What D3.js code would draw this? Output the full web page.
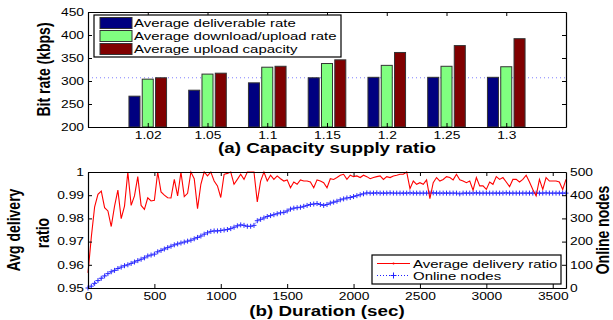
<!DOCTYPE html>
<html>
<head>
<meta charset="utf-8">
<script src="https://cdn.jsdelivr.net/npm/d3@7"></script>
<style>
  body { margin: 0; background: #fff; }
  svg { display: block; font-family: "Liberation Sans", Arial, Helvetica, sans-serif; }
</style>
</head>
<body>
<svg id="chart" width="613" height="320"></svg>
<script>
// (a) bar chart data
const ratios = ["1.02", "1.05", "1.1", "1.15", "1.2", "1.25", "1.3"];
const deliverable = [267, 280, 296, 307, 308, 308, 308];
const downUpload = [304, 315, 330, 338, 334, 332, 331];
const uploadCap = [307, 317, 332, 346, 362, 377, 392];
const barSeries = ["Average deliverable rate", "Average download/upload rate", "Average upload capacity"];
const barColors = ["#000080", "#80ff80", "#800000"];
const refRate = 307;
const rateTicks = [200, 250, 300, 350, 400, 450];

// (b) time series, one sample every 25 sec
const times = d3.range(0, 3601, 25);
const deliveryRatio = [
  0.9565,0.972,0.985,0.9904,0.9918,0.9846,0.9832,0.9765,0.9853,0.9922,
  0.9799,0.9853,1.0,0.9856,0.9897,0.998,0.9856,0.9839,0.9889,0.9875,
  0.9878,1.0,0.9914,0.990,0.9889,0.9888,0.9968,0.9897,1.0,0.9894,
  0.9908,1.0,0.9971,0.9842,0.9947,1.0,0.9983,1.0,0.9961,0.994,
  0.989,0.999,0.9994,1.0,0.9947,0.9968,0.999,0.9968,1.0,1.0,
  1.0,0.9871,0.9961,1.0,0.9961,0.9986,0.9968,0.9983,0.9971,0.9961,
  0.9966,0.9932,0.9957,0.9947,0.9966,0.9961,0.9961,0.9957,0.9932,0.9966,
  0.9961,0.9954,0.9932,0.9971,0.9968,0.9976,0.9986,0.999,0.9968,0.9986,
  0.998,0.9983,0.9976,0.9986,0.998,0.9971,0.9976,0.998,0.9983,0.9968,
  0.998,0.9976,0.9983,0.9986,0.999,0.999,1.0,0.9928,0.9961,0.9947,
  0.9954,0.9947,0.9966,0.9885,0.9954,0.9976,0.9961,0.9968,0.998,0.9976,
  0.9966,0.999,0.9966,0.9961,0.9954,0.9961,0.9922,0.9976,0.994,0.994,
  0.9925,0.9957,0.9947,0.998,0.9968,0.9976,0.9957,0.9937,0.9968,0.9968,
  0.9957,0.9968,0.9986,0.9957,0.9925,0.9897,0.9968,0.9925,0.9976,0.9961,
  0.9961,0.9961,0.9957,0.9925,0.9968
];
const onlineNodes = [
  0,8,20,32,42,52,62,70,76,84,
  90,96,100,106,112,118,124,130,138,142,
  146,156,162,168,174,180,186,190,194,198,
  202,206,212,218,224,232,238,244,246,246,
  248,250,252,256,262,268,272,270,266,266,
  270,290,296,302,308,312,316,320,324,326,
  332,340,344,346,348,352,356,360,362,364,
  360,356,360,366,370,374,380,384,388,390,
  394,398,402,406,410,
  409,409,410,409,409,409,410,409,409,409,
  409,409,410,409,409,409,409,409,409,410,
  409,409,409,409,409,409,409,406,409,409,
  409,409,410,409,409,409,409,409,409,409,
  409,410,409,409,409,409,409,409,409,409,
  409,409,409,410,409,409,409,409,409,409
];
const ratioTicks = [0.95, 0.96, 0.97, 0.98, 0.99, 1];
const ratioLabels = ["0.95", "0.96", "0.97", "0.98", "0.99", "1"];
const nodeTicks = [0, 100, 200, 300, 400, 500];
const timeTicks = [0, 500, 1000, 1500, 2000, 2500, 3000, 3500];
const lineSeries = ["Average delivery ratio", "Online nodes"];

const svg = d3.select("#chart");

// the original figure is stretched sideways, so text is widened to match
function stretch(sel, k) {
  sel.each(function() {
    const w = this.getComputedTextLength();
    d3.select(this).attr("textLength", w * k).attr("lengthAdjust", "spacingAndGlyphs");
  });
}

function styleAxis(g) {
  g.select(".domain").attr("stroke", "#000").attr("stroke-width", 1.2);
  g.selectAll(".tick line").attr("stroke", "#000").attr("stroke-width", 1);
  g.selectAll("text").attr("font-size", 10).attr("fill", "#000");
}

// ---------- (a) ----------
const L = 88, R = 566;
const xBar = d3.scaleLinear().domain([0, 8]).range([L, R]);
const yBar = d3.scaleLinear().domain([200, 450]).range([127, 12]);
const xSub = d3.scaleBand().domain(barSeries).range([-18.8, 18.8]).paddingInner(0.17);

const gTop = svg.append("g");

gTop.append("line")
  .attr("x1", L).attr("x2", R)
  .attr("y1", yBar(refRate)).attr("y2", yBar(refRate))
  .attr("stroke", "#8080ff").attr("stroke-width", 1)
  .attr("stroke-dasharray", "1,3");

const barValues = [deliverable, downUpload, uploadCap];
barSeries.forEach((name, s) => {
  gTop.append("g").selectAll("rect")
    .data(barValues[s])
    .join("rect")
    .attr("x", (d, i) => xBar(i + 1) + xSub(name))
    .attr("width", xSub.bandwidth())
    .attr("y", d => yBar(d))
    .attr("height", d => yBar(200) - yBar(d))
    .attr("fill", barColors[s])
    .attr("stroke", "#333").attr("stroke-width", 1);
});

const catIdx = ratios.map((r, i) => i + 1);
const axA = gTop.append("g").attr("transform", `translate(0,${yBar(200)})`)
  .call(d3.axisBottom(xBar).tickValues(catIdx).tickFormat(i => ratios[i - 1])
    .tickSizeInner(-4).tickSizeOuter(0).tickPadding(5));
styleAxis(axA);
gTop.append("g").attr("transform", `translate(0,${yBar(450)})`)
  .call(d3.axisTop(xBar).tickValues(catIdx).tickFormat("").tickSizeInner(-4).tickSizeOuter(0))
  .call(styleAxis);
const ayA = gTop.append("g").attr("transform", `translate(${L},0)`)
  .call(d3.axisLeft(yBar).tickValues(rateTicks).tickSizeInner(-4).tickSizeOuter(0).tickPadding(4));
styleAxis(ayA);
gTop.append("g").attr("transform", `translate(${R},0)`)
  .call(d3.axisRight(yBar).tickValues(rateTicks).tickFormat("").tickSizeInner(-4).tickSizeOuter(0))
  .call(styleAxis);

stretch(axA.selectAll("text"), 1.38);
stretch(ayA.selectAll("text"), 1.38);

// legend (a)
const legA = gTop.append("g");
legA.append("rect").attr("x", 94).attr("y", 15).attr("width", 247).attr("height", 42)
  .attr("fill", "#fff").attr("stroke", "#000").attr("stroke-width", 1.2);
barSeries.forEach((name, s) => {
  const cy = 23 + s * 13;
  legA.append("rect").attr("x", 100).attr("y", cy - 5.5).attr("width", 32).attr("height", 11)
    .attr("fill", barColors[s]).attr("stroke", "#333").attr("stroke-width", 1);
  legA.append("text").attr("x", 134).attr("y", cy + 4.2)
    .attr("font-size", 11.5).text(name)
    .call(stretch, 1.3);
});

gTop.append("text")
  .attr("x", (L + R) / 2).attr("y", 153)
  .attr("text-anchor", "middle").attr("font-size", 14).attr("font-weight", "bold")
  .text("(a) Capacity supply ratio")
  .call(stretch, 1.34);

gTop.append("text")
  .attr("transform", "translate(50,69.5) rotate(-90) scale(1,1.35)")
  .attr("text-anchor", "middle").attr("font-size", 14).attr("font-weight", "bold")
  .text("Bit rate (kbps)");

// ---------- (b) ----------
const xT = d3.scaleLinear().domain([0, 3600]).range([L, R]);
const yRatio = d3.scaleLinear().domain([0.95, 1]).range([288, 172]);
const yNodes = d3.scaleLinear().domain([0, 500]).range([288, 172]);

const gBot = svg.append("g");

const nodePts = times.map((t, i) => [t, onlineNodes[i]]);
gBot.append("path")
  .attr("d", d3.line().x(d => xT(d[0])).y(d => yNodes(d[1]))(nodePts))
  .attr("fill", "none").attr("stroke", "#2020ff").attr("stroke-width", 1)
  .attr("stroke-dasharray", "1,2");
gBot.append("g").selectAll("path")
  .data(nodePts)
  .join("path")
  .attr("d", d => {
    const x = xT(d[0]), y = yNodes(d[1]);
    return `M${x - 2.5},${y}H${x + 2.5}M${x},${y - 2.5}V${y + 2.5}`;
  })
  .attr("stroke", "#2a2aff").attr("stroke-width", 1).attr("fill", "none");

const ratioPts = times.map((t, i) => [t, deliveryRatio[i]]);
gBot.append("path")
  .attr("d", d3.line().x(d => xT(d[0])).y(d => yRatio(d[1]))(ratioPts))
  .attr("fill", "none").attr("stroke", "#ff0000").attr("stroke-width", 1.1);

const axB = gBot.append("g").attr("transform", `translate(0,${yRatio(0.95)})`)
  .call(d3.axisBottom(xT).tickValues(timeTicks).tickFormat(d3.format("d"))
    .tickSizeInner(-4).tickSizeOuter(0).tickPadding(5));
styleAxis(axB);
gBot.append("g").attr("transform", `translate(0,${yRatio(1)})`)
  .call(d3.axisTop(xT).tickValues(timeTicks).tickFormat("").tickSizeInner(-4).tickSizeOuter(0))
  .call(styleAxis);
const ayB = gBot.append("g").attr("transform", `translate(${L},0)`)
  .call(d3.axisLeft(yRatio).tickValues(ratioTicks).tickFormat((d, i) => ratioLabels[i])
    .tickSizeInner(-4).tickSizeOuter(0).tickPadding(4));
styleAxis(ayB);
const ayB2 = gBot.append("g").attr("transform", `translate(${R},0)`)
  .call(d3.axisRight(yNodes).tickValues(nodeTicks).tickSizeInner(-4).tickSizeOuter(0).tickPadding(4));
styleAxis(ayB2);

stretch(axB.selectAll("text"), 1.38);
stretch(ayB.selectAll("text"), 1.38);
stretch(ayB2.selectAll("text"), 1.38);

// legend (b)
const legB = gBot.append("g");
legB.append("rect").attr("x", 372).attr("y", 255).attr("width", 189).attr("height", 29)
  .attr("fill", "#fff").attr("stroke", "#000").attr("stroke-width", 1.2);
legB.append("line").attr("x1", 377).attr("x2", 410).attr("y1", 263.5).attr("y2", 263.5)
  .attr("stroke", "#ff0000").attr("stroke-width", 1.1);
legB.append("circle").attr("cx", 393.5).attr("cy", 263.5).attr("r", 1).attr("fill", "#ff0000");
legB.append("line").attr("x1", 377).attr("x2", 410).attr("y1", 275.5).attr("y2", 275.5)
  .attr("stroke", "#2020ff").attr("stroke-width", 1).attr("stroke-dasharray", "1,2");
legB.append("path").attr("d", "M390.5,275.5H396.5M393.5,272.5V278.5")
  .attr("stroke", "#2020ff").attr("stroke-width", 1);
lineSeries.forEach((name, s) => {
  legB.append("text").attr("x", 413).attr("y", 267.5 + s * 12)
    .attr("font-size", 11.5).text(name)
    .call(stretch, 1.3);
});

gBot.append("text")
  .attr("x", (L + R) / 2).attr("y", 316)
  .attr("text-anchor", "middle").attr("font-size", 14).attr("font-weight", "bold")
  .text("(b) Duration (sec)")
  .call(stretch, 1.34);

gBot.append("text")
  .attr("transform", "translate(20,230) rotate(-90) scale(1,1.35)")
  .attr("text-anchor", "middle").attr("font-size", 14).attr("font-weight", "bold")
  .text("Avg delivery");
gBot.append("text")
  .attr("transform", "translate(49,233) rotate(-90) scale(1,1.35)")
  .attr("text-anchor", "middle").attr("font-size", 14).attr("font-weight", "bold")
  .text("ratio");
gBot.append("text")
  .attr("transform", "translate(609,230) rotate(-90) scale(1,1.25)")
  .attr("text-anchor", "middle").attr("font-size", 14).attr("font-weight", "bold")
  .text("Online nodes");
</script>
</body>
</html>
